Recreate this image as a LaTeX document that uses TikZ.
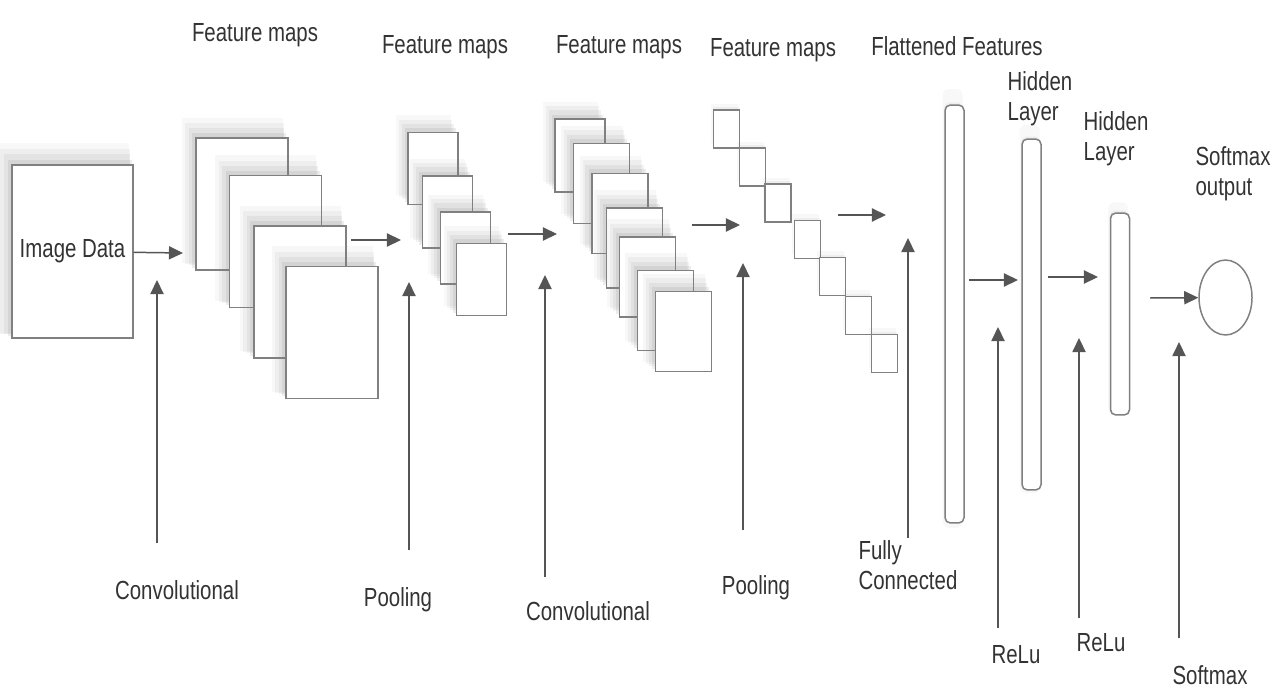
\documentclass[tikz,border=0pt]{standalone}
\usepackage{fontspec}
\setmainfont{Liberation Sans}[FakeStretch=0.78]
\usetikzlibrary{arrows.meta,shadows,shapes.geometric}
\definecolor{edge}{HTML}{808080}
\definecolor{ink}{HTML}{333333}
\definecolor{arr}{HTML}{555555}
\tikzset{
  lbl/.style={text=ink,font=\fontsize{14.9}{17}\selectfont,inner sep=0pt},
  lbl2/.style={lbl,align=left},
  soft/.style={drop shadow={shadow xshift=-5pt,shadow yshift=7pt,opacity=.06,shadow scale=1.10},
               drop shadow={shadow xshift=-4pt,shadow yshift=5.5pt,opacity=.08,shadow scale=1.07},
               drop shadow={shadow xshift=-3pt,shadow yshift=4pt,opacity=.10,shadow scale=1.04},
               drop shadow={shadow xshift=-1.5pt,shadow yshift=2pt,opacity=.14,shadow scale=1.02}},
  faint/.style={drop shadow={shadow xshift=-1pt,shadow yshift=3pt,opacity=.06,shadow scale=1.05},
                drop shadow={shadow xshift=-.5pt,shadow yshift=1.5pt,opacity=.08}},
  box/.style={draw=edge,line width=0.85pt,fill=white,inner sep=0pt},
  datbox/.style={box,soft,minimum width=2.42cm,minimum height=3.46cm,text=ink,font=\fontsize{14.9}{17}\selectfont},
  bigmap/.style={box,soft,minimum width=1.84cm,minimum height=2.64cm},
  midmap/.style={box,soft,minimum width=1.0cm,minimum height=1.44cm},
  convmap/.style={box,soft,minimum width=1.12cm,minimum height=1.6cm},
  tinymap/.style={box,faint,minimum width=0.52cm,minimum height=0.76cm},
  bar/.style={box,faint,rounded corners=3pt,minimum width=0.38cm},
  flow/.style={draw=arr,line width=0.85pt,-{Triangle[length=8pt,width=7.5pt]}}
}
\begin{document}
\begin{tikzpicture}[x=0.02cm,y=-0.02cm]
      \useasboundingbox (0,0) rectangle (1280,689);
      \draw
        (72.5,251.5) node[datbox] (data){Image Data}
        (242,204) node[bigmap] (a1){}
        (275.5,241.5) node[bigmap] (a2){}
        (300,292) node[bigmap] (a3){}
        (332,332.5) node[bigmap] (a4){}
        (433,168.5) node[midmap] (b1){}
        (447.5,212) node[midmap] (b2){}
        (465.5,248) node[midmap] (b3){}
        (481.5,279.5) node[midmap] (b4){}
        (580,155.5) node[convmap,minimum width=1.0cm,minimum height=1.46cm] (c1){}
        (601.5,183.5) node[convmap] (c2){}
        (620,213.5) node[convmap] (c3){}
        (634.5,248) node[convmap] (c4){}
        (647.5,277) node[convmap] (c5){}
        (665.5,310.5) node[convmap] (c6){}
        (683.5,331.5) node[convmap] (c7){}
        (726.5,129) node[tinymap] (d1){}
        (752.5,167) node[tinymap] (d2){}
        (778,203) node[tinymap] (d3){}
        (807.5,239.5) node[tinymap] (d4){}
        (832.5,276.5) node[tinymap] (d5){}
        (858.5,315.5) node[tinymap] (d6){}
        (884.5,353.5) node[tinymap] (d7){}
        (954.5,314) node[bar,minimum height=8.36cm] (flat){}
        (1031.5,314.5) node[bar,minimum height=7.02cm] (hid1){}
        (1120,314) node[bar,minimum height=4.04cm] (hid2){}
        (1225.5,297.5) node[box,ellipse,minimum width=1.06cm,minimum height=1.5cm] (out){};
      \draw
        (255,35) node[lbl] (fmlab1){Feature maps}
        (445,47) node[lbl] (fmlab2){Feature maps}
        (619,47) node[lbl] (fmlab3){Feature maps}
        (773,50) node[lbl] (fmlab4){Feature maps}
        (957,46) node[lbl] (flatlab){Flattened Features}
        (1040,99) node[lbl2] (hidlab1){Hidden\\Layer}
        (1116,139) node[lbl2] (hidlab2){Hidden\\Layer}
        (1233,174) node[lbl2] (outlab){Softmax\\output}
        (177,590) node[lbl] (conv1){Convolutional}
        (398,600) node[lbl] (pool1){Pooling}
        (588,611) node[lbl] (conv2){Convolutional}
        (756,588) node[lbl] (pool2){Pooling}
        (908,565) node[lbl2] (fc){Fully\\Connected}
        (1016,655) node[lbl] (relu1){ReLu}
        (1101,643) node[lbl] (relu2){ReLu}
        (1210,675) node[lbl] (smx){Softmax};
      \path
        (183,253) coordinate (h0)
        (351,240) coordinate (h1a) (401,240) coordinate (h1b)
        (508,234) coordinate (h2a) (557,234) coordinate (h2b)
        (692,225) coordinate (h3a) (740,225) coordinate (h3b)
        (838,215) coordinate (h4a) (886,215) coordinate (h4b)
        (969,280) coordinate (h5a) (1018,280) coordinate (h5b)
        (1048,277) coordinate (h6a) (1098,277) coordinate (h6b)
        (1150,298) coordinate (h7a)
        (157,543) coordinate (v1a) (157,280) coordinate (v1b)
        (409,550) coordinate (v2a) (409,282) coordinate (v2b)
        (545,577) coordinate (v3a) (545,275) coordinate (v3b)
        (743,530) coordinate (v4a) (743,263) coordinate (v4b)
        (908,538) coordinate (v5a) (908,238) coordinate (v5b)
        (998,628) coordinate (v6a) (998,327) coordinate (v6b)
        (1079,618) coordinate (v7a) (1079,338) coordinate (v7b)
        (1179,638) coordinate (v8a) (1179,342) coordinate (v8b);
      \begin{scope}[flow]
        \draw (data) to (h0);
        \draw (h1a) to (h1b);
        \draw (h2a) to (h2b);
        \draw (h3a) to (h3b);
        \draw (h4a) to (h4b);
        \draw (h5a) to (h5b);
        \draw (h6a) to (h6b);
        \draw (h7a) to (out);
        \draw (v1a) to (v1b);
        \draw (v2a) to (v2b);
        \draw (v3a) to (v3b);
        \draw (v4a) to (v4b);
        \draw (v5a) to (v5b);
        \draw (v6a) to (v6b);
        \draw (v7a) to (v7b);
        \draw (v8a) to (v8b);
      \end{scope}
    \end{tikzpicture}
\end{document}
